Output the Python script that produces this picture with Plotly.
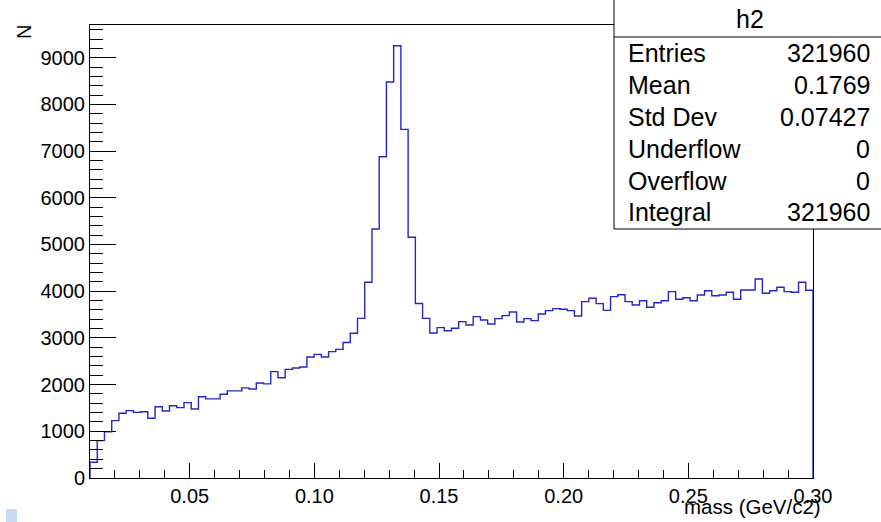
import numpy as np
import plotly.graph_objects as go

# ---------------- data ----------------
HIST_NAME = "h2"
X_MIN, X_MAX, N_BINS = 0.01, 0.30, 100
bin_counts = [
    336, 800, 990, 1228, 1385, 1442, 1406, 1420, 1278, 1527,
    1435, 1548, 1506, 1615, 1478, 1741, 1695, 1695, 1792, 1866,
    1866, 1930, 1906, 2035, 2016, 2277, 2148, 2327, 2355, 2377,
    2590, 2648, 2590, 2705, 2755, 2900, 3098, 3419, 4190, 5332,
    6880, 8480, 9257, 7466, 5154, 3735, 3419, 3105, 3219, 3152,
    3205, 3348, 3276, 3455, 3383, 3298, 3412, 3476, 3555, 3340,
    3412, 3369, 3512, 3583, 3626, 3612, 3583, 3469, 3776, 3848,
    3733, 3590, 3883, 3925, 3776, 3705, 3797, 3655, 3754, 3797,
    3990, 3826, 3861, 3797, 3919, 4011, 3904, 3919, 3976, 3826,
    4026, 4026, 4261, 3955, 4011, 4083, 3990, 3976, 4190, 4019,
]
stat_names = ["Entries", "Mean", "Std Dev", "Underflow", "Overflow", "Integral"]
stat_values = ["321960", "0.1769", "0.07427", "0", "0", "321960"]
x_title = "mass (GeV/c2)"
y_title = "N"
Y_MAX = 9700

# ---------------- geometry ----------------
W, H = 881, 522
L, R, T, B = 90, 813, 25, 478  # plot frame in pixels


def xp(px):
    return (px - L) / (R - L)


def yp(py):
    return (B - py) / (B - T)


edges = np.linspace(X_MIN, X_MAX, N_BINS + 1)
xs = [edges[0]] + list(edges[:-1]) + [edges[-1], edges[-1]]
ys = [0] + list(bin_counts) + [bin_counts[-1], 0]

FONT = "Liberation Sans, Arial, Helvetica, sans-serif"

fig = go.Figure()
fig.add_trace(go.Scatter(
    x=xs, y=ys, mode="lines", line_shape="hv",
    line=dict(color="#2626c8", width=1.4),
    hoverinfo="skip", showlegend=False,
))

fig.update_layout(
    width=W, height=H,
    margin=dict(l=L, r=W - R, t=T, b=H - B, pad=0),
    paper_bgcolor="white", plot_bgcolor="white",
    font=dict(family=FONT, color="black", size=20),
    xaxis=dict(
        range=[X_MIN, X_MAX], showgrid=False, zeroline=False,
        showline=True, linecolor="black", linewidth=1, mirror=True,
        ticks="inside", ticklen=15, tickwidth=1, tickcolor="black",
        tick0=0, dtick=0.05, tickformat=".2f",
        minor=dict(ticks="inside", ticklen=8, dtick=0.01, tick0=0,
                   tickcolor="black", showgrid=False),
        tickfont=dict(size=20),
    ),
    yaxis=dict(
        range=[0, Y_MAX], showgrid=False, zeroline=False,
        showline=True, linecolor="black", linewidth=1, mirror=True,
        ticks="inside", ticklen=26, tickwidth=1, tickcolor="black",
        tick0=0, dtick=1000, tickformat="d",
        minor=dict(ticks="inside", ticklen=13, dtick=200, tick0=0,
                   tickcolor="black", showgrid=False),
        tickfont=dict(size=20),
    ),
)

shapes = []
# stats box
shapes.append(dict(type="rect", xref="paper", yref="paper",
                   x0=xp(614), x1=xp(884), y0=yp(229), y1=yp(-2),
                   fillcolor="white", line=dict(color="black", width=1),
                   layer="above"))
shapes.append(dict(type="line", xref="paper", yref="paper",
                   x0=xp(614), x1=xp(884), y0=yp(37), y1=yp(37),
                   line=dict(color="black", width=1), layer="above"))
# small canvas marker bottom-left
shapes.append(dict(type="rect", xref="paper", yref="paper",
                   x0=xp(6), x1=xp(17), y0=yp(509), y1=yp(523),
                   fillcolor="#c9dcf0", line=dict(width=0), layer="above"))
fig.update_layout(shapes=shapes)

ann = []
ann.append(dict(text=HIST_NAME, xref="paper", yref="paper", x=xp(750), y=yp(19),
                xanchor="center", yanchor="middle", showarrow=False,
                font=dict(size=25, family=FONT, color="black")))
row_y = [53, 85, 117, 149, 181, 212]
for name, val, ry in zip(stat_names, stat_values, row_y):
    ann.append(dict(text=name, xref="paper", yref="paper", x=xp(626), y=yp(ry),
                    xanchor="left", yanchor="middle", showarrow=False,
                    font=dict(size=25, family=FONT, color="black")))
    ann.append(dict(text=val, xref="paper", yref="paper", x=xp(872), y=yp(ry),
                    xanchor="right", yanchor="middle", showarrow=False,
                    font=dict(size=25, family=FONT, color="black")))
ann.append(dict(text=x_title, xref="paper", yref="paper", x=xp(823), y=yp(506),
                xanchor="right", yanchor="middle", showarrow=False,
                font=dict(size=20.5, family=FONT, color="black")))
ann.append(dict(text=y_title, xref="paper", yref="paper", x=xp(24), y=yp(32),
                xanchor="center", yanchor="middle", showarrow=False, textangle=-90,
                font=dict(size=20, family=FONT, color="black")))
fig.update_layout(annotations=ann)

fig.write_html(
    "out.html",
    config={"displayModeBar": False},
    post_script="document.body.style.margin='0px';document.body.style.overflow='hidden';",
)
